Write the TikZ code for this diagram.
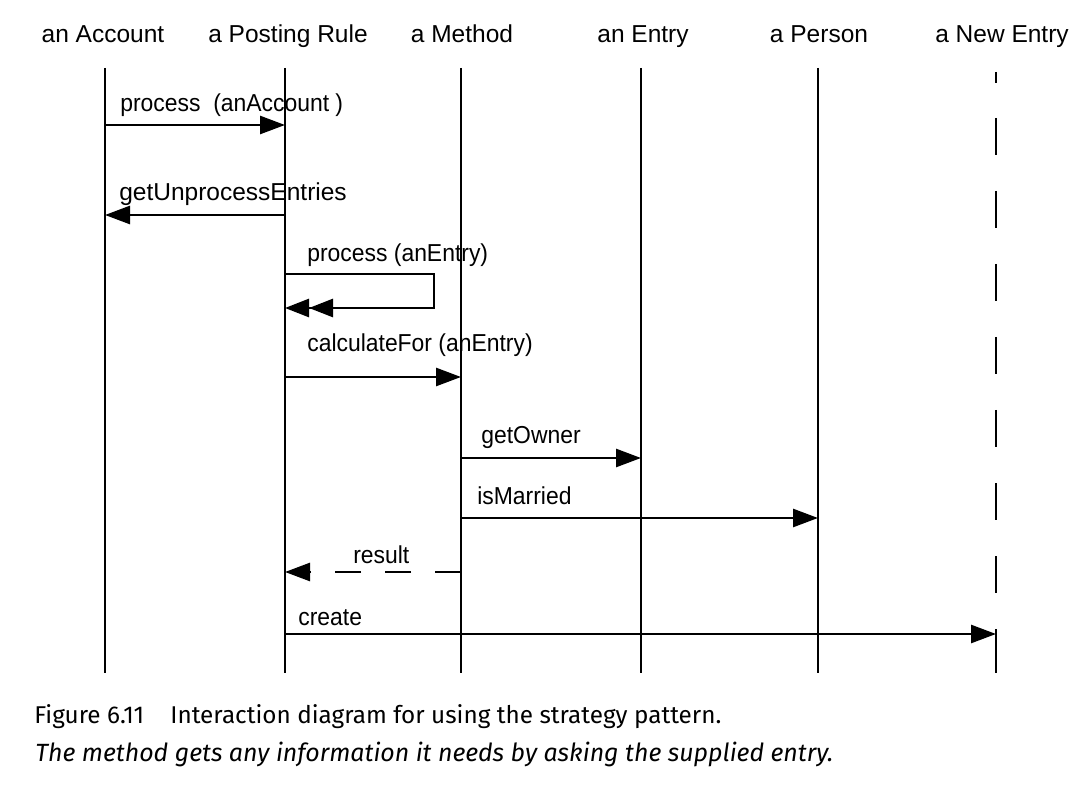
\documentclass[tikz,border=0pt]{standalone}
\usepackage{fontspec}
\setmainfont{Liberation Sans}
\newfontfamily\narrowfont[FakeStretch=0.935]{Liberation Sans}
\newfontfamily\capfont{Fira Sans}
\usetikzlibrary{arrows.meta}
\begin{document}
\begin{tikzpicture}[x=1pt,y=-1pt,line width=2.7pt,
  hdr/.style={font=\fontsize{24.5}{28}\selectfont,inner sep=0pt,anchor=base},
  lbl/.style={font=\narrowfont\fontsize{24.5}{28}\selectfont,inner sep=0pt,anchor=base west},
  lblwide/.style={font=\fontsize{24.5}{28}\selectfont,inner sep=0pt,anchor=base west},
  captext/.style={font=\capfont\fontsize{24}{28}\selectfont,inner sep=0pt,anchor=base west},
  msg/.style={-{Triangle[length=25pt,width=18pt]}},
  ret/.style={msg,dash pattern=on 26pt off 24pt},
  selfmsg/.style={-{Triangle[length=24pt,width=18pt,sep=0pt]Triangle[length=24pt,width=18pt]}},
  life/.style={line width=2.7pt},
  lifedash/.style={line width=2.7pt,dash pattern=on 11pt off 35pt on 37pt off 36pt on 37pt off 36pt on 37pt off 36pt on 37pt off 36pt on 37pt off 36pt on 37pt off 36pt on 37pt off 36pt on 44pt}]
\useasboundingbox (0,0) rectangle (1080,802);

% headers
\node[hdr] (acc)    at (103,43)  {an Account};
\node[hdr] (rule)   at (288,43)  {a Posting Rule};
\node[hdr] (meth)   at (462,43)  {a Method};
\node[hdr] (entry)  at (643,43)  {an Entry};
\node[hdr] (person) at (819,43)  {a Person};
\node[hdr] (newe)   at (1002,43) {a New Entry};

% lifelines
\coordinate (accT) at (105,68);   \coordinate (accB) at (105,673);
\coordinate (ruleT) at (285,68);  \coordinate (ruleB) at (285,673);
\coordinate (methT) at (461,68);  \coordinate (methB) at (461,673);
\coordinate (entT) at (641,68);   \coordinate (entB) at (641,673);
\coordinate (perT) at (818,68);   \coordinate (perB) at (818,673);
\coordinate (newT) at (996,72);   \coordinate (newB) at (996,673);
\draw[life] (accT) -- (accB);
\draw[life] (ruleT) -- (ruleB);
\draw[life] (methT) -- (methB);
\draw[life] (entT) -- (entB);
\draw[life] (perT) -- (perB);
\draw[lifedash] (newT) -- (newB);

% message end points
\coordinate (m1a) at (105,125); \coordinate (m1b) at (285,125);
\coordinate (m2a) at (285,215); \coordinate (m2b) at (105,215);
\coordinate (m3a) at (285,274); \coordinate (m3c) at (434,274);
\coordinate (m3d) at (434,308); \coordinate (m3b) at (285,308);
\coordinate (m4a) at (285,377); \coordinate (m4b) at (461,377);
\coordinate (m5a) at (461,458); \coordinate (m5b) at (641,458);
\coordinate (m6a) at (461,518); \coordinate (m6b) at (818,518);
\coordinate (m7a) at (461,572); \coordinate (m7b) at (285,572);
\coordinate (m8a) at (285,634); \coordinate (m8b) at (996,634);

% messages
\draw[msg] (m1a) -- (m1b);
\node[lbl] (l1) at (119,112) {process~~(anAccount~)};
\draw[msg] (m2a) -- (m2b);
\node[lblwide] (l2) at (118,201) {getUnprocessEntries};
\draw[selfmsg] (m3a) -- (m3c) -- (m3d) -- (m3b);
\node[lbl] (l3) at (306,262) {process (anEntry)};
\draw[msg] (m4a) -- (m4b);
\node[lbl] (l4) at (306,352) {calculateFor (anEntry)};
\draw[msg] (m5a) -- (m5b);
\node[lbl] (l5) at (480,444) {getOwner};
\draw[msg] (m6a) -- (m6b);
\node[lbl] (l6) at (476,504) {isMarried};
\draw[ret] (m7a) -- (m7b);
\node[lbl] (l7) at (352,563) {result};
\draw[msg] (m8a) -- (m8b);
\node[lbl] (l8) at (297,625) {create};

% caption
\node[captext] (cap1) at (33,723) {\resizebox{687pt}{!}{Figure 6.11\hspace{26pt}Interaction diagram for using the strategy pattern.}};
\node[captext] (cap2) at (34,761) {\resizebox{798pt}{!}{\itshape The method gets any information it needs by asking the supplied entry.}};
\end{tikzpicture}
\end{document}
